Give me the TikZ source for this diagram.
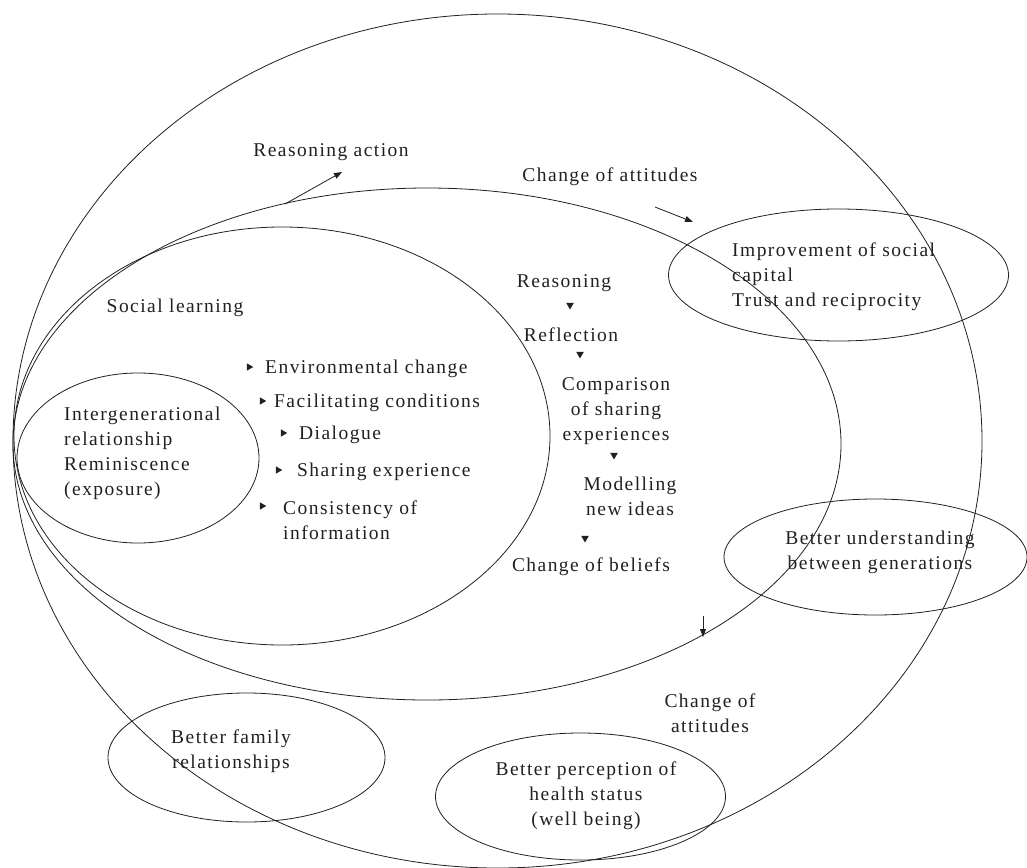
\documentclass[tikz,border=0pt]{standalone}
\usepackage{fontspec}
\setmainfont{Liberation Serif}[LetterSpace=7.5]
\usetikzlibrary{shapes.geometric,arrows.meta}
\definecolor{ink}{RGB}{35,31,32}
\begin{document}
\begin{tikzpicture}[x=1pt,y=-1pt,
  ell/.style={draw=ink,line width=0.8pt,ellipse,inner sep=0pt,outer sep=0pt},
  txt/.style={text=ink,font=\fontsize{19.5}{25}\selectfont,inner sep=0pt,align=center},
  ltxt/.style={txt,align=left,anchor=west},
  tridown/.style={regular polygon,regular polygon sides=3,shape border rotate=180,fill=ink,inner sep=0pt,minimum size=9pt},
  triright/.style={regular polygon,regular polygon sides=3,shape border rotate=-90,fill=ink,inner sep=0pt,minimum size=8.5pt},
  arr/.style={draw=ink,line width=0.8pt,-{Triangle[length=8pt,width=6pt]}}]
\useasboundingbox (0,0) rectangle (1027,867);
% ellipses
\node[ell,minimum width=969pt,minimum height=854pt] (outer) at (497.5,441) {};
\node[ell,minimum width=828pt,minimum height=512pt] (attit) at (427,444) {};
\node[ell,minimum width=536pt,minimum height=418pt] (social) at (282,436) {};
\node[ell,minimum width=242pt,minimum height=170pt] (inter) at (138,458) {};
\node[ell,minimum width=340pt,minimum height=132pt] (capital) at (838.5,275) {};
\node[ell,minimum width=303pt,minimum height=116pt] (underst) at (875.5,557) {};
\node[ell,minimum width=277pt,minimum height=129pt] (family) at (246.5,757.5) {};
\node[ell,minimum width=290pt,minimum height=127pt] (health) at (580.5,796.5) {};
% texts
\node[txt] (ra) at (331,152) {Reasoning action};
\node[txt] (coa) at (610,177) {Change of attitudes};
\node[ltxt] (isc) at (732,277) {Improvement of social\\capital\\Trust and reciprocity};
\node[txt] (sl) at (175,308) {Social learning};
\node[txt] (rs) at (564,283) {Reasoning};
\node[txt] (rf) at (571,335) {Reflection};
\node[txt] (cmp) at (616,411) {Comparison\\of sharing\\experiences};
\node[txt] (mod) at (630,496) {Modelling\\new ideas};
\node[txt] (cob) at (591,567) {Change of beliefs};
\node[ltxt] (b1) at (265,369) {Environmental change};
\node[ltxt] (b2) at (274,403) {Facilitating conditions};
\node[ltxt] (b3) at (299,435) {Dialogue};
\node[ltxt] (b4) at (297,472) {Sharing experience};
\node[ltxt] (b5) at (283,520) {Consistency of\\information};
\node[ltxt] (igr) at (64,453) {Intergenerational\\relationship\\Reminiscence\\(exposure)};
\node[txt] (bu) at (880,552) {Better understanding\\between generations};
\node[txt] (coa2) at (710,713) {Change of\\attitudes};
\node[txt] (bf) at (231,751) {Better family\\relationships};
\node[txt] (bp) at (586,796) {Better perception of\\health status\\(well being)};
% small triangles
\node[tridown] (t1) at (570,305) {};
\node[tridown] (t2) at (580,354) {};
\node[tridown] (t3) at (614,455) {};
\node[tridown] (t4) at (585,538) {};
\node[triright] (r1) at (249,367) {};
\node[triright] (r2) at (262,401) {};
\node[triright] (r3) at (283,433) {};
\node[triright] (r4) at (278,470) {};
\node[triright] (r5) at (262,506) {};
% arrows
\coordinate (raS) at (285,204);
\coordinate (raE) at (342,172);
\coordinate (caS) at (655,207);
\coordinate (caE) at (693,222);
\coordinate (dnS) at (703,616);
\coordinate (dnE) at (703,637);
\draw[arr] (raS) -- (raE);
\draw[arr] (caS) -- (caE);
\draw[arr] (dnS) -- (dnE);
\end{tikzpicture}
\end{document}
